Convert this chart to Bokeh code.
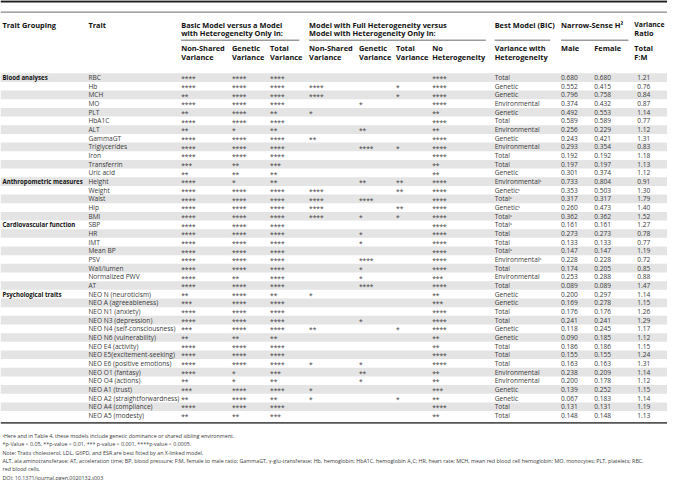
from bokeh.plotting import figure
from bokeh.models import Range1d, ColumnDataSource
from bokeh.core.properties import value
from bokeh.embed import file_html
from bokeh.resources import INLINE

# ---------------- data ----------------
group_labels = ["Blood analyses", "Anthropometric measures", "Cardiovascular function", "Psychological traits"]
group_sizes = [12, 5, 8, 15]

traits = ["RBC", "Hb", "MCH", "MO", "PLT", "HbA1C", "ALT", "GammaGT", "Triglycerides", "Iron", "Transferrin", "Uric acid",
          "Height", "Weight", "Waist", "Hip", "BMI",
          "SBP", "HR", "IMT", "Mean BP", "PSV", "Wall/lumen", "Normalized PWV", "AT",
          "NEO N (neuroticism)", "NEO A (agreeableness)", "NEO N1 (anxiety)", "NEO N3 (depression)",
          "NEO N4 (self-consciousness)", "NEO N6 (vulnerability)", "NEO E4 (activity)", "NEO E5(excitement-seeking)",
          "NEO E6 (positive emotions)", "NEO O1 (fantasy)", "NEO O4 (actions)", "NEO A1 (trust)",
          "NEO A2 (straightforwardness)", "NEO A4 (compliance)", "NEO A5 (modesty)"]

basic_nonshared = ["****", "****", "**", "****", "**", "****", "**", "****", "****", "****", "***", "**",
                   "****", "****", "****", "****", "****",
                   "****", "****", "****", "****", "****", "****", "****", "****",
                   "**", "***", "****", "****", "***", "**", "****", "****", "****", "****", "**", "***", "**", "****", "**"]
basic_genetic = ["****", "****", "****", "****", "****", "****", "*", "****", "****", "****", "**", "**",
                 "*", "****", "****", "****", "****",
                 "****", "****", "****", "****", "****", "****", "**", "****",
                 "****", "****", "****", "****", "****", "**", "****", "****", "****", "*", "*", "****", "****", "****", "**"]
basic_total = ["****", "****", "****", "****", "**", "****", "**", "****", "****", "****", "***", "**",
               "**", "****", "****", "****", "****",
               "****", "****", "****", "****", "****", "****", "****", "****",
               "**", "****", "****", "****", "****", "**", "****", "****", "****", "***", "**", "****", "**", "****", "***"]
full_nonshared = ["", "****", "****", "", "*", "", "", "**", "", "", "", "",
                  "", "****", "****", "****", "****",
                  "", "", "", "", "", "", "", "",
                  "*", "", "", "", "**", "", "", "", "*", "", "", "*", "*", "", ""]
full_genetic = ["", "", "", "*", "", "", "**", "", "****", "", "", "",
                "**", "", "****", "", "*",
                "", "*", "*", "", "****", "*", "*", "****",
                "", "", "", "*", "", "", "", "", "*", "**", "*", "", "", "", ""]
full_total = ["", "*", "*", "", "", "", "", "", "*", "", "", "",
              "**", "**", "", "**", "*",
              "", "", "", "", "", "", "", "",
              "", "", "", "", "*", "", "", "", "", "", "", "", "*", "", ""]
no_heterogeneity = ["****", "****", "****", "****", "**", "****", "**", "****", "****", "****", "**", "**",
                    "****", "****", "****", "****", "****",
                    "****", "****", "****", "****", "****", "****", "***", "****",
                    "**", "***", "****", "****", "****", "**", "**", "****", "****", "**", "**", "***", "**", "****", "**"]
best_model = ["Total", "Genetic", "Genetic", "Environmental", "Genetic", "Total", "Environmental", "Genetic",
              "Environmental", "Total", "Total", "Genetic",
              "Environmental\u1d43", "Genetic\u1d43", "Total\u1d43", "Genetic\u1d43", "Total\u1d43",
              "Total\u1d43", "Total", "Total", "Total\u1d43", "Environmental\u1d43", "Total", "Environmental", "Total",
              "Genetic", "Genetic", "Total", "Total", "Genetic", "Genetic", "Total", "Total", "Total",
              "Environmental", "Environmental", "Genetic", "Genetic", "Total", "Total"]
h2_male = [0.680, 0.552, 0.796, 0.374, 0.492, 0.589, 0.256, 0.243, 0.293, 0.192, 0.197, 0.301,
           0.733, 0.353, 0.317, 0.260, 0.362,
           0.161, 0.273, 0.133, 0.147, 0.228, 0.174, 0.253, 0.089,
           0.200, 0.169, 0.176, 0.241, 0.118, 0.090, 0.186, 0.155, 0.163, 0.238, 0.200, 0.139, 0.067, 0.131, 0.148]
h2_female = [0.680, 0.415, 0.758, 0.432, 0.553, 0.589, 0.229, 0.421, 0.354, 0.192, 0.197, 0.374,
             0.804, 0.503, 0.317, 0.473, 0.362,
             0.161, 0.273, 0.133, 0.147, 0.228, 0.205, 0.288, 0.089,
             0.297, 0.278, 0.176, 0.241, 0.245, 0.185, 0.186, 0.155, 0.163, 0.209, 0.178, 0.252, 0.183, 0.131, 0.148]
variance_ratio = [1.21, 0.76, 0.84, 0.87, 1.14, 0.77, 1.12, 1.31, 0.83, 1.18, 1.13, 1.12,
                  0.91, 1.30, 1.79, 1.40, 1.52,
                  1.27, 0.78, 0.77, 1.19, 0.72, 0.85, 0.88, 1.47,
                  1.14, 1.15, 1.26, 1.29, 1.17, 1.12, 1.15, 1.24, 1.31, 1.14, 1.12, 1.15, 1.14, 1.19, 1.13]

footnotes = [
    "\u1d43Here and in Table 4, these models include genetic dominance or shared sibling environment.",
    "*p-Value < 0.05, **p-value < 0.01, *** p-value < 0.001, ****p-value < 0.0005.",
    "Note: Traits cholesterol, LDL, G6PD, and ESR are best fitted by an X-linked model.",
    "ALT, ala aminotransferase; AT, acceleration time; BP, blood pressure; F:M, female to male ratio; GammaGT, \u03b3-glu-transferase; "
    "Hb, hemoglobin; HbA1C, hemoglobin A\u2081C; HR, heart rate; MCH, mean red blood cell hemoglobin; MO, monocytes; PLT, platelets; RBC,",
    "red blood cells.",
    "DOI: 10.1371/journal.pgen.0020132.t003",
]

# ---------------- layout (reference pixel space) ----------------
W, H = 683, 496
FONT = "Open Sans"
HEAD_COL = "#111111"
BODY_COL = "#3a3a3a"
BAND = "#e4e4e4"

col_x = dict(group=2, trait=90, ns1=185, g1=237, t1=276, ns2=316, g2=367, t2=405,
             nohet=442, best=506, male=574, female=608, ratio=652)
row0, pitch = 79.7, 8.95
n = len(traits)
row_y = [row0 + i * pitch for i in range(n)]

p = figure(width=667, height=480, x_range=Range1d(0, W), y_range=Range1d(H, 0),
           output_backend="svg", toolbar_location=None, min_border=0)
p.axis.visible = False
p.grid.visible = False
p.outline_line_color = None
p.background_fill_color = "white"
p.border_fill_color = "white"

# alternating bands
even = [i for i in range(n) if i % 2 == 0]
p.quad(left=0, right=W, top=[row_y[i] - pitch / 2 for i in even],
       bottom=[row_y[i] + pitch / 2 for i in even], fill_color=BAND, line_color=None)

# rules
p.segment(x0=[0], x1=[W], y0=[1], y1=[1], line_color="#1e1e1e", line_width=2.2)
p.segment(x0=[0], x1=[W], y0=[12], y1=[12], line_color="#6a6a6a", line_width=1)
p.segment(x0=[185, 316, 506, 574], x1=[306, 497, 563, 643], y0=[41] * 4, y1=[41] * 4,
          line_color="#6a6a6a", line_width=1)
p.segment(x0=[0], x1=[W], y0=[436.5], y1=[436.5], line_color="#555555", line_width=1.6)


def txt(xs, ys, texts, size, bold=False, color=BODY_COL):
    src = ColumnDataSource(dict(x=xs, y=ys, t=texts))
    p.text(x="x", y="y", text="t", source=src, text_font=value(FONT), text_font_size=value(f"{size}px"),
           text_font_style="bold" if bold else "normal", text_color=color,
           text_baseline="middle", text_align="left")


HS = 7.4
ratio_hx = 649
# header line 1
txt([col_x["group"], col_x["trait"], col_x["ns1"], col_x["ns2"], col_x["best"], col_x["male"]],
    [25] * 6,
    ["Trait Grouping", "Trait", "Basic Model versus a Model", "Model with Full Heterogeneity versus",
     "Best Model (BIC)", "Narrow-Sense H\u00b2"], HS, bold=True, color=HEAD_COL)
txt([ratio_hx], [25], ["Variance"], 6.9, bold=True, color=HEAD_COL)
txt([col_x["ns1"], col_x["ns2"], ratio_hx], [33.5] * 3,
    ["with Heterogeneity Only in:", "Model with Heterogeneity Only in:", "Ratio"], HS, bold=True, color=HEAD_COL)
# header line 2
sub_keys = ["ns1", "g1", "t1", "ns2", "g2", "t2", "nohet", "best", "male", "female", "ratio"]
sub_x = [col_x[k] for k in sub_keys[:-1]] + [ratio_hx]
sub_top = ["Non-Shared", "Genetic", "Total", "Non-Shared", "Genetic", "Total", "No", "Variance with",
           "Male", "Female", "Total"]
sub_bot = ["Variance", "Variance", "Variance", "Variance", "Variance", "Variance", "Heterogeneity",
           "Heterogeneity", "", "", "F:M"]
txt(sub_x, [49.5] * len(sub_keys), sub_top, HS, bold=True, color=HEAD_COL)
txt(sub_x, [58.5] * len(sub_keys), sub_bot, HS, bold=True, color=HEAD_COL)

# group labels
starts = [sum(group_sizes[:k]) for k in range(len(group_sizes))]
txt([col_x["group"]] * len(group_labels), [row_y[s] for s in starts], group_labels, 6.1, bold=True, color=HEAD_COL)

BS = 6.6
txt([col_x["trait"]] * n, row_y, traits, BS)
for key, col in [("ns1", basic_nonshared), ("g1", basic_genetic), ("t1", basic_total),
                 ("ns2", full_nonshared), ("g2", full_genetic), ("t2", full_total),
                 ("nohet", no_heterogeneity)]:
    txt([col_x[key]] * n, [y + 1.2 for y in row_y], col, BS)
txt([col_x["best"]] * n, row_y, best_model, BS)
txt([col_x["male"]] * n, row_y, [f"{v:.3f}" for v in h2_male], BS)
txt([col_x["female"]] * n, row_y, [f"{v:.3f}" for v in h2_female], BS)
txt([col_x["ratio"]] * n, row_y, [f"{v:.2f}" for v in variance_ratio], BS)

# footnotes
fy = [450, 458.6, 467.2, 475.8, 484.4, 493]
txt([2] * len(footnotes), fy, footnotes, 5.35)

open("out.html", "w").write(file_html(p, INLINE))
